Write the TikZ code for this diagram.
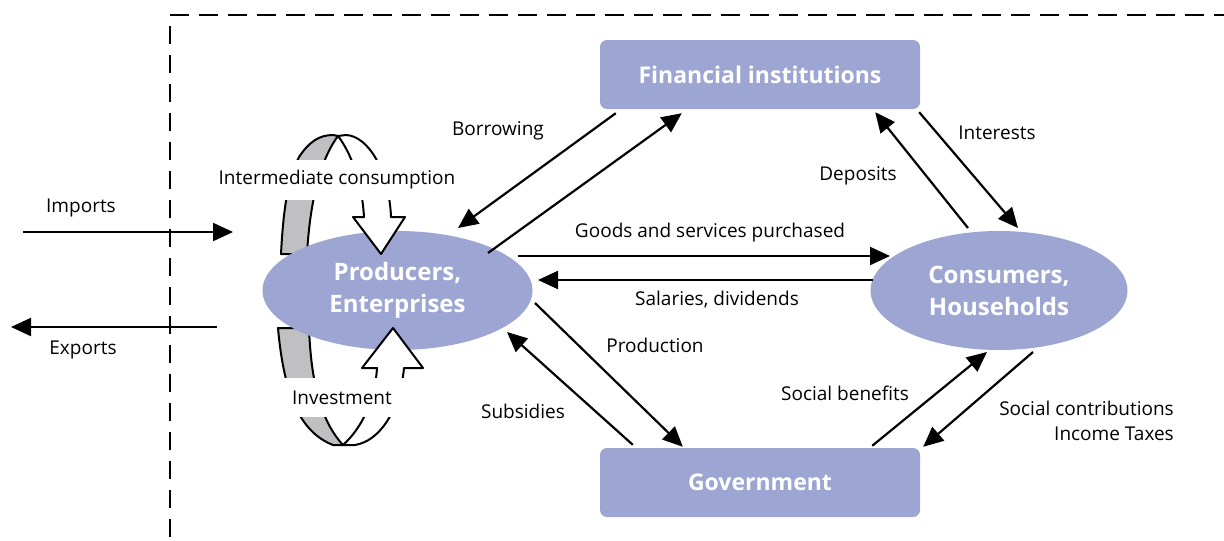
\documentclass[tikz,border=0pt]{standalone}
\usepackage{fontspec}
\setmainfont{Open Sans}
\usetikzlibrary{arrows.meta,shapes.geometric}
\definecolor{boxblue}{RGB}{157,165,210}
\definecolor{bandgray}{RGB}{192,192,194}
\begin{document}
\begin{tikzpicture}[x=1pt,y=-1pt,
  arr/.style={line width=2.2pt,-{Triangle[length=20pt,width=18pt]}},
  lbl/.style={font=\fontsize{19}{25}\selectfont, inner sep=0pt},
  boxnode/.style={fill=boxblue, rounded corners=7pt, minimum width=320pt, minimum height=69pt,
     text=white, font=\fontsize{23}{30}\selectfont\bfseries},
  ellnode/.style={ellipse, fill=boxblue, text=white, align=center, inner sep=0pt,
     font=\fontsize{24}{32}\selectfont\bfseries},
  ring/.style={line width=2pt, line join=round},
  border/.style={line width=1.5pt}]
\useasboundingbox (0,0) rectangle (1224,541);
% system border
\coordinate (corner) at (170,15);
\coordinate (bright) at (1224,15);
\coordinate (bbottom) at (170,541);
\draw[border, dash pattern=on 19pt off 10pt] (corner) -- (bright);
\draw[border, dash pattern=on 18pt off 11pt, dash phase=18pt] (corner) -- (bbottom);
% back parts of the rings
\draw[ring, fill=bandgray] (281,254) .. controls (283,215) and (287,180) .. (299,157)
   .. controls (309,142) and (319,135) .. (333,135) -- (338,136)
   .. controls (326,152) and (311,185) .. (307,254) -- cycle;
\draw[ring, fill=bandgray] (278,328) -- (309,328) .. controls (311,380) and (320,420) .. (343,445)
   -- (333,445) .. controls (300,432) and (284,395) .. (278,328) -- cycle;
% main nodes
\node[ellnode, minimum width=270pt, minimum height=119pt] (prod) at (397.5,290.5) {Producers,\\Enterprises};
\node[ellnode, minimum width=257pt, minimum height=119pt] (cons) at (999,290.5) {Consumers,\\Households};
\node[boxnode] (fin) at (760,74.5) {Financial institutions};
\node[boxnode] (gov) at (760,482.5) {Government};
% front parts with block arrows
\draw[ring, fill=white] (338,136) -- (346,135) .. controls (368,136) and (389,170) .. (391,217)
   -- (405,217) -- (381,254) -- (353,217) -- (364,217)
   .. controls (362,182) and (351,153) .. (338,136) -- cycle;
\draw[ring, fill=white] (343,445) -- (355,445) .. controls (380,441) and (400,410) .. (404,368)
   -- (423,368) -- (393,328) -- (362,368) -- (377,368)
   .. controls (375,400) and (362,428) .. (343,445) -- cycle;
% ring labels (white background hides the rings)
\node[lbl, fill=white, minimum height=40pt, inner xsep=2pt] (linter) at (337,180) {Intermediate consumption};
\node[lbl, fill=white, minimum height=39pt, minimum width=136pt] (linv) at (342,397.5) {Investment};
% external flows
\coordinate (impA) at (23,232);
\coordinate (impB) at (233,232);
\coordinate (expA) at (217,327);
\coordinate (expB) at (11,327);
\draw[arr] (impA) -- (impB);
\draw[arr] (expA) -- (expB);
% flows
\draw[arr] ([shift={(16,4)}]fin.south west) -- ([shift={(60.5,-62.5)}]prod.center);
\draw[arr] ([shift={(90.5,-37.5)}]prod.center) -- ([shift={(82,4)}]fin.south west);
\draw[arr] ([shift={(-1,3)}]fin.south east) -- ([shift={(19,-62.5)}]cons.center);
\draw[arr] ([shift={(-31,-62.5)}]cons.center) -- ([shift={(-45,3)}]fin.south east);
\draw[arr] ([shift={(120.5,-34.5)}]prod.center) -- ([shift={(-109,-34.5)}]cons.center);
\draw[arr] ([shift={(-126,-10.5)}]cons.center) -- ([shift={(140.5,-10.5)}]prod.center);
\draw[arr] ([shift={(137.5,12.5)}]prod.center) -- ([shift={(83,-1)}]gov.north west);
\draw[arr] ([shift={(33,-3)}]gov.north west) -- ([shift={(109.5,41.5)}]prod.center);
\draw[arr] ([shift={(-48,-2)}]gov.north east) -- ([shift={(-12,61.5)}]cons.center);
\draw[arr] ([shift={(34,61.5)}]cons.center) -- ([shift={(3,-1)}]gov.north east);
% labels
\node[lbl] (limp) at (81,208) {Imports};
\node[lbl] (lexp) at (83,350) {Exports};
\node[lbl] (lbor) at (498,131) {Borrowing};
\node[lbl] (lint) at (997,133) {Interests};
\node[lbl] (ldep) at (858,176) {Deposits};
\node[lbl] (lgoods) at (710,233) {Goods and services purchased};
\node[lbl] (lsal) at (717,300) {Salaries, dividends};
\node[lbl] (lprodn) at (655,345) {Production};
\node[lbl] (lsub) at (523,411) {Subsidies};
\node[lbl] (lsb) at (845,393) {Social benefits};
\node[lbl, anchor=east, align=right] (lsc) at (1174,420.5) {Social contributions\\Income Taxes};
\end{tikzpicture}
\end{document}
